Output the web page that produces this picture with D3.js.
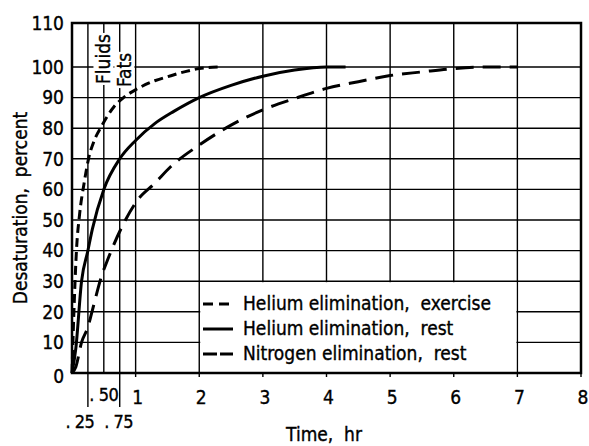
<!DOCTYPE html>
<html>
<head>
<meta charset="utf-8">
<script src="https://cdn.jsdelivr.net/npm/d3@7"></script>
<style>
  body { margin: 0; background: #fff; }
  text { font-family: "Liberation Sans Narrow", "DejaVu Sans Condensed", sans-serif; fill: #000; stroke: #000; stroke-width: 0.35px; white-space: pre; }
</style>
</head>
<body>
<svg width="589" height="446"></svg>
<script>
// values (time in hours, desaturation in percent)
const heExTime = [0, 0.03, 0.07, 0.12, 0.19, 0.26, 0.35, 0.46, 0.66, 0.81, 1.02, 1.3, 1.5, 1.78, 2.0, 2.3];
const heExPct  = [0, 20, 40, 52, 62, 70, 76, 80.5, 87, 90, 92.8, 95.5, 96.8, 98.5, 99.5, 100];

const heRestTime = [0, 0.06, 0.15, 0.25, 0.32, 0.5, 0.75, 1.0, 1.3, 1.6, 2.0, 2.5, 3.0, 3.5, 4.0, 4.3];
const heRestPct  = [0, 8, 30, 40, 47, 60, 70, 76, 81.5, 85.5, 90, 94, 97, 99, 100, 100];

const n2Time = [0, 0.06, 0.15, 0.25, 0.32, 0.47, 0.56, 0.84, 1.03, 1.3, 1.55, 2.0, 2.5, 3.0, 3.5, 4.0, 4.5, 5.0, 5.5, 6.0, 6.5, 7.0];
const n2Pct  = [0, 2, 10, 15, 20.5, 32, 37, 50, 56.5, 62, 67.4, 74.5, 81, 86, 89.7, 93, 95.2, 97.2, 98.4, 99.5, 100, 100];

const xTicks = [1, 2, 3, 4, 5, 6, 7, 8];
const xFracTicks = [0.25, 0.5, 0.75];
const xFracLabels = ['. 25', '. 50', '. 75'];
const yTicks = [0, 10, 20, 30, 40, 50, 60, 70, 80, 90, 100, 110];
const legendLabels = ['Helium elimination,  exercise', 'Helium elimination,  rest', 'Nitrogen elimination,  rest'];
const markers = ['Fluids', 'Fats'];

const svg = d3.select('svg');

const x = d3.scaleLinear().domain([0, 8]).range([72, 581]);
// the printed grid is not quite even at the top, so the scale has a break at 100
const y = d3.scaleLinear().domain([0, 100, 110]).range([373, 67, 23]);

const grid = svg.append('g').attr('stroke', '#000').attr('stroke-width', 1.4);

// horizontal grid
grid.selectAll('.h')
  .data(yTicks.filter(d => d > 0 && d < 110))
  .enter().append('line')
  .attr('x1', x(0)).attr('x2', x(8))
  .attr('y1', d => y(d)).attr('y2', d => y(d));

// vertical grid
grid.selectAll('.v')
  .data(xFracTicks.concat(xTicks.filter(d => d < 8)))
  .enter().append('line')
  .attr('x1', d => x(d)).attr('x2', d => x(d))
  .attr('y1', y(0)).attr('y2', y(110));

// small ticks below the axis, longer ones for .25 and .75
grid.selectAll('.t')
  .data(xTicks)
  .enter().append('line')
  .attr('x1', d => x(d)).attr('x2', d => x(d))
  .attr('y1', y(0)).attr('y2', y(0) + 4);
grid.selectAll('.tf')
  .data([0.25, 0.75])
  .enter().append('line')
  .attr('x1', d => x(d)).attr('x2', d => x(d))
  .attr('y1', y(0)).attr('y2', y(0) + 34);

// legend box blanks the grid between 2 and 7 hr below 30 percent
svg.append('rect')
  .attr('x', x(2) + 1).attr('y', y(30) + 1)
  .attr('width', x(7) - x(2) - 2).attr('height', y(0) - y(30) - 2)
  .attr('fill', '#fff');

// Fluids / Fats labels on the .50 and .75 lines
const mk = svg.append('g');
markers.forEach((m, i) => {
  const xm = x(xFracTicks[i + 1]) + (i === 1 ? 5 : 0);
  const ym = i === 0 ? 59 : 70;
  const g = mk.append('g').attr('transform', 'translate(' + xm + ',' + ym + ') rotate(-90)');
  const t = g.append('text')
    .attr('text-anchor', 'middle').attr('dy', '0.35em')
    .style('font-size', '19px')
    .text(m);
  const b = t.node().getBBox();
  g.insert('rect', 'text')
    .attr('x', b.x - 1).attr('y', b.y + 1)
    .attr('width', b.width + 2).attr('height', b.height - 2)
    .attr('fill', '#fff');
});

// curves
const line = d3.line()
  .x(d => x(d[0]))
  .y(d => y(d[1]))
  .curve(d3.curveMonotoneX);

const series = [
  {t: heExTime, v: heExPct, dash: '9,5'},
  {t: heRestTime, v: heRestPct, dash: null},
  {t: n2Time, v: n2Pct, dash: '18,9'},
];

svg.append('g').selectAll('path')
  .data(series)
  .enter().append('path')
  .attr('d', d => line(d.t.map((tt, i) => [tt, d.v[i]])))
  .attr('fill', 'none')
  .attr('stroke', '#000')
  .attr('stroke-width', 3)
  .attr('stroke-dasharray', d => d.dash);

// plot frame
svg.append('rect')
  .attr('x', x(0)).attr('y', y(110))
  .attr('width', x(8) - x(0)).attr('height', y(0) - y(110))
  .attr('fill', 'none').attr('stroke', '#000').attr('stroke-width', 2.5);

// y tick labels
svg.append('g').selectAll('text')
  .data(yTicks)
  .enter().append('text')
  .attr('x', 64).attr('y', d => y(d) + (d === 0 ? 3 : 0))
  .attr('dy', '0.36em')
  .attr('text-anchor', 'end')
  .style('font-size', '19px')
  .text(d => d);

// x tick labels
svg.append('g').selectAll('text')
  .data(xTicks)
  .enter().append('text')
  .attr('x', d => x(d) + 2).attr('y', 404)
  .attr('text-anchor', 'middle')
  .style('font-size', '19px')
  .text(d => d);

svg.append('g').selectAll('text')
  .data(xFracTicks)
  .enter().append('text')
  .attr('x', (d, i) => i === 1 ? x(d) : i === 0 ? x(d) - 8 : x(d) - 1)
  .attr('y', (d, i) => i === 1 ? 401 : 428)
  .attr('text-anchor', 'middle')
  .style('font-size', '18px')
  .style('letter-spacing', '-0.5px')
  .text((d, i) => xFracLabels[i]);

// axis titles
svg.append('text')
  .attr('x', 324).attr('y', 441)
  .attr('text-anchor', 'middle')
  .style('font-size', '19px')
  .text('Time,  hr');

svg.append('text')
  .attr('transform', 'translate(27,208) rotate(-90)')
  .attr('text-anchor', 'middle')
  .style('font-size', '19px')
  .text('Desaturation,  percent');

// legend
const lg = svg.append('g');
series.forEach((s, i) => {
  const yy = 310 + i * 25;
  lg.append('line')
    .attr('x1', 203).attr('x2', 233)
    .attr('y1', yy - 6).attr('y2', yy - 6)
    .attr('stroke', '#000').attr('stroke-width', 3)
    .attr('stroke-dasharray', i === 0 ? '10,6' : i === 2 ? '14,3' : null);
  lg.append('text')
    .attr('x', 243).attr('y', yy)
    .style('font-size', '19px')
    .text(legendLabels[i]);
});
</script>
</body>
</html>
